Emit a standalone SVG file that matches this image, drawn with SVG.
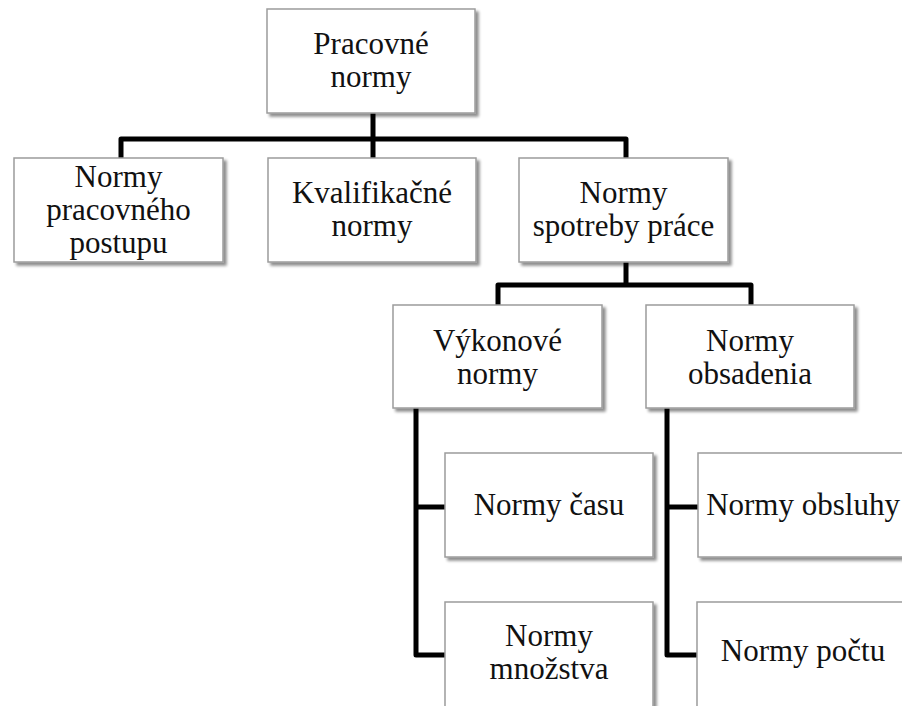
<svg xmlns="http://www.w3.org/2000/svg" width="902" height="706" viewBox="0 0 902 706">
<defs>
<filter id="sh" x="-10%" y="-10%" width="130%" height="130%">
<feGaussianBlur in="SourceAlpha" stdDeviation="1.6"/>
<feOffset dx="2.5" dy="3" result="b"/>
<feComponentTransfer><feFuncA type="linear" slope="0.45"/></feComponentTransfer>
<feMerge><feMergeNode/><feMergeNode in="SourceGraphic"/></feMerge>
</filter>
</defs>
<style>
.box{fill:#ffffff;stroke:#9c9c9c;stroke-width:1.5;filter:url(#sh)}
.t{font-family:"Liberation Serif","Times New Roman",serif;font-size:31px;fill:#111;text-anchor:middle}
.c{fill:none;stroke:#000;stroke-width:5;stroke-linejoin:round;stroke-linecap:butt}
</style>
<rect width="902" height="706" fill="#ffffff"/>
<g id="connectors">
<path class="c" d="M373,113 V139"/>
<path class="c" d="M121,158 V139 H626 V158"/>
<path class="c" d="M373,139 V158"/>
<path class="c" d="M626,262 V285"/>
<path class="c" d="M498,305 V285 H751 V305"/>
<path class="c" d="M416,408 V655 H445"/>
<path class="c" d="M416,507 H445"/>
<path class="c" d="M667,408 V655 H698"/>
<path class="c" d="M667,507 H698"/>
</g>
<g id="pracovne-normy">
<rect class="box" x="267" y="9" width="208" height="104"/>
<text class="t" x="371" y="54">Pracovné</text>
<text class="t" x="371" y="87">normy</text>
</g>
<g id="normy-pracovneho-postupu">
<rect class="box" x="14" y="158" width="209" height="104"/>
<text class="t" x="118.5" y="187">Normy</text>
<text class="t" x="118.5" y="220">pracovného</text>
<text class="t" x="118.5" y="253">postupu</text>
</g>
<g id="kvalifikacne-normy">
<rect class="box" x="268" y="158" width="208" height="104"/>
<text class="t" x="372" y="203">Kvalifikačné</text>
<text class="t" x="372" y="236">normy</text>
</g>
<g id="normy-spotreby-prace">
<rect class="box" x="519" y="158" width="209" height="104"/>
<text class="t" x="623.5" y="203">Normy</text>
<text class="t" x="623.5" y="236">spotreby práce</text>
</g>
<g id="vykonove-normy">
<rect class="box" x="393" y="305" width="209" height="103"/>
<text class="t" x="497.5" y="351">Výkonové</text>
<text class="t" x="497.5" y="384">normy</text>
</g>
<g id="normy-obsadenia">
<rect class="box" x="646" y="305" width="208" height="103"/>
<text class="t" x="750" y="351">Normy</text>
<text class="t" x="750" y="384">obsadenia</text>
</g>
<g id="normy-casu">
<rect class="box" x="445" y="453" width="208" height="104"/>
<text class="t" x="549" y="515">Normy času</text>
</g>
<g id="normy-mnozstva">
<rect class="box" x="445" y="602" width="208" height="106"/>
<text class="t" x="549" y="646">Normy</text>
<text class="t" x="549" y="679">množstva</text>
</g>
<g id="normy-obsluhy">
<rect class="box" x="698" y="453" width="208" height="104"/>
<text class="t" x="803" y="515">Normy obsluhy</text>
</g>
<g id="normy-poctu">
<rect class="box" x="697" y="602" width="208" height="106"/>
<text class="t" x="803" y="661">Normy počtu</text>
</g>
</svg>
